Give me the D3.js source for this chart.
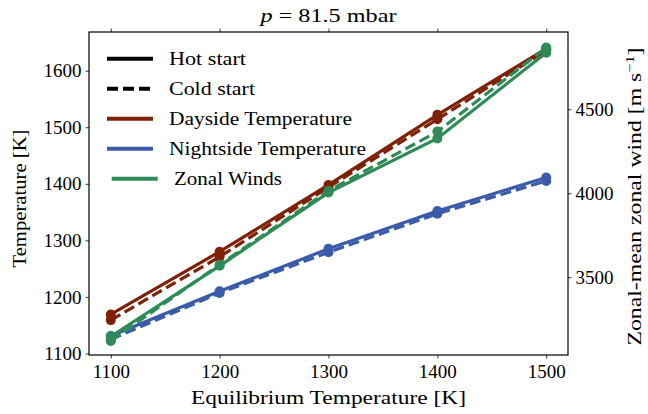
<!DOCTYPE html>
<html>
<head>
<meta charset="utf-8">
<script src="https://cdn.jsdelivr.net/npm/d3@7"></script>
<style>
  body { margin: 0; background: #fff; }
</style>
</head>
<body>
<div id="chart"></div>
<script>
// equilibrium temperatures (x)
const teq = [1100, 1200, 1300, 1400, 1500];

// left axis: temperatures [K]
const dayHot = [1169, 1280, 1398, 1522, 1639];
const dayCold = [1159, 1271, 1394, 1514, 1636];
const nightHot = [1131, 1210, 1285, 1352, 1411];
const nightCold = [1125, 1207, 1279, 1347, 1405];

// right axis: zonal-mean zonal wind [m/s]
const windHot = [3147, 3568, 4004, 4326, 4837];
const windCold = [3121, 3575, 4014, 4367, 4867];

const xTicks = [1100, 1200, 1300, 1400, 1500];
const yTicks = [1100, 1200, 1300, 1400, 1500, 1600];
const y2Ticks = [3500, 4000, 4500];

const legendItems = ["Hot start", "Cold start", "Dayside Temperature", "Nightside Temperature", "Zonal Winds"];

const red = "#7f2106", blue = "#3a5ba9", green = "#2e8b57";
const font = "Liberation Serif";

const width = 648, height = 414;
const m = {left: 89, right: 568, top: 32, bottom: 355};

const svg = d3.select("#chart").append("svg")
  .attr("width", width).attr("height", height)
  .attr("font-family", font);

const x = d3.scaleLinear().domain([1080, 1520]).range([m.left, m.right]);
const y = d3.scaleLinear().domain([1097.3, 1668.4]).range([m.bottom, m.top]);
const y2 = d3.scaleLinear().domain([3037, 4960]).range([m.bottom, m.top]);

// series drawn in the matplotlib order: left axis first, twin axis on top
const series = [
  {vals: dayHot, color: red, scale: y, dash: null},
  {vals: dayCold, color: red, scale: y, dash: "11,5"},
  {vals: nightHot, color: blue, scale: y, dash: null},
  {vals: nightCold, color: blue, scale: y, dash: "11,5"},
  {vals: windHot, color: green, scale: y2, dash: null},
  {vals: windCold, color: green, scale: y2, dash: "11,5"}
];

const plot = svg.append("g");
series.forEach(s => {
  const pts = teq.map((t, i) => [t, s.vals[i]]);
  const line = d3.line().x(d => x(d[0])).y(d => s.scale(d[1]));
  plot.append("path")
    .attr("d", line(pts))
    .attr("fill", "none")
    .attr("stroke", s.color)
    .attr("stroke-width", 3.2)
    .attr("stroke-dasharray", s.dash);
  plot.selectAll(null).data(pts).enter().append("circle")
    .attr("cx", d => x(d[0]))
    .attr("cy", d => s.scale(d[1]))
    .attr("r", 5)
    .attr("fill", s.color);
});

// axes
const tickLen = 3.5;
const fs = 19;
const styleAxis = g => {
  g.attr("font-family", font).attr("font-size", fs);
  g.select(".domain").remove();
  g.selectAll(".tick line").attr("stroke", "#000").attr("stroke-width", 0.8);
  g.selectAll(".tick text").attr("fill", "#000");
};

svg.append("g").attr("transform", `translate(0,${m.bottom})`)
  .call(d3.axisBottom(x).tickValues(xTicks).tickFormat(d3.format("d")).tickSizeOuter(0).tickSize(tickLen).tickPadding(6))
  .call(styleAxis);
svg.append("g").attr("transform", `translate(0,${m.top})`)
  .call(d3.axisTop(x).tickValues(xTicks).tickFormat("").tickSizeOuter(0).tickSize(tickLen))
  .call(styleAxis);
svg.append("g").attr("transform", `translate(${m.left},0)`)
  .call(d3.axisLeft(y).tickValues(yTicks).tickFormat(d3.format("d")).tickSizeOuter(0).tickSize(tickLen).tickPadding(4))
  .call(styleAxis);
svg.append("g").attr("transform", `translate(${m.right},0)`)
  .call(d3.axisRight(y2).tickValues(y2Ticks).tickFormat(d3.format("d")).tickSizeOuter(0).tickSize(tickLen).tickPadding(4))
  .call(styleAxis);

// frame
svg.append("rect")
  .attr("x", m.left).attr("y", m.top)
  .attr("width", m.right - m.left).attr("height", m.bottom - m.top)
  .attr("fill", "none").attr("stroke", "#000").attr("stroke-width", 1.2);

// title
const title = svg.append("text")
  .attr("x", (m.left + m.right) / 2).attr("y", 22)
  .attr("text-anchor", "middle").attr("font-size", fs)
  .attr("textLength", 136).attr("lengthAdjust", "spacingAndGlyphs");
title.append("tspan").attr("font-style", "italic").text("p");
title.append("tspan").text(" = 81.5 mbar");

// axis labels
svg.append("text")
  .attr("x", (m.left + m.right) / 2).attr("y", 404)
  .attr("text-anchor", "middle").attr("font-size", fs)
  .attr("textLength", 275).attr("lengthAdjust", "spacingAndGlyphs")
  .text("Equilibrium Temperature [K]");

svg.append("text")
  .attr("transform", `translate(26,${(m.top + m.bottom) / 2 + 5}) rotate(-90)`)
  .attr("text-anchor", "middle").attr("font-size", fs)
  .attr("textLength", 138).attr("lengthAdjust", "spacingAndGlyphs")
  .text("Temperature [K]");

const y2Label = svg.append("text")
  .attr("transform", `translate(641,${(m.top + m.bottom) / 2 + 3}) rotate(-90)`)
  .attr("text-anchor", "middle").attr("font-size", fs)
  .attr("textLength", 298).attr("lengthAdjust", "spacingAndGlyphs");
y2Label.append("tspan").text("Zonal-mean zonal wind [m s");
y2Label.append("tspan").attr("font-size", 13).attr("dy", -7).text("\u22121");
y2Label.append("tspan").attr("dy", 7).text("]");

// legend
const legColors = ["#000", "#000", red, blue, green];
const legDash = [null, "11,5", null, null, null];
const legWidths = [77, 86, 183, 197, 108];
const leg = svg.append("g");
legendItems.forEach((name, i) => {
  const yy = 58.7 + i * 30;
  const x0 = i === 4 ? 111.7 : 107;
  leg.append("line")
    .attr("x1", x0).attr("x2", x0 + 46)
    .attr("y1", yy).attr("y2", yy)
    .attr("stroke", legColors[i]).attr("stroke-width", 4)
    .attr("stroke-dasharray", legDash[i]);
  leg.append("text")
    .attr("x", i === 4 ? 174 : 169).attr("y", yy + 6)
    .attr("font-size", fs)
    .attr("textLength", legWidths[i]).attr("lengthAdjust", "spacingAndGlyphs")
    .text(name);
});
</script>
</body>
</html>
